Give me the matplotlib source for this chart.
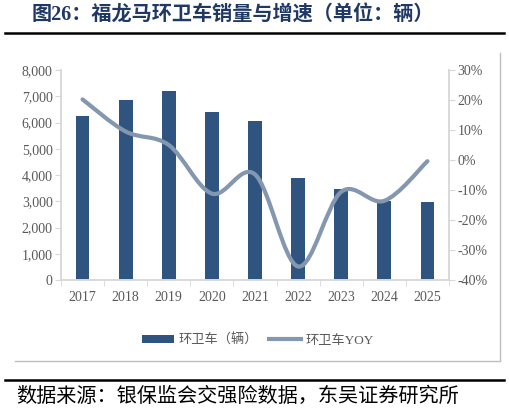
import numpy as np
import matplotlib
matplotlib.use("Agg")
import matplotlib.pyplot as plt
from matplotlib.path import Path
from matplotlib.patches import PathPatch
from matplotlib.lines import Line2D
from matplotlib.patches import Patch
from matplotlib.ticker import FuncFormatter

# data
years = ['2017', '2018', '2019', '2020', '2021', '2022', '2023', '2024', '2025']
sales = [6260, 6860, 7210, 6390, 6060, 3890, 3480, 3010, 2980]
yoy = [20.2, 9.5, 5.0, -11.2, -4.8, -35.5, -10.6, -13.6, -0.4]

bar_color = '#2F5480'
line_color = '#8497B0'
tick_color = '#595959'
spine_color = '#D9D9D9'
serif = 'Liberation Serif'
cjk = ['Noto Sans CJK SC', 'DejaVu Sans']
mixed = ['Liberation Serif', 'Noto Sans CJK SC', 'DejaVu Sans']

W, H = 509, 413
fig = plt.figure(figsize=(W / 100, H / 100), dpi=100)

# axes box in pixels: left 61, right 449, top 70, bottom 280
ax = fig.add_axes([61 / W, (H - 280) / H, (449 - 61) / W, (280 - 70) / H])
ax2 = ax.twinx()

x = np.arange(len(years))
ax.bar(x, sales, width=0.32, color=bar_color, zorder=2)
ax.set_xlim(-0.5, len(years) - 0.5)
ax.set_ylim(0, 8000)
ax.set_yticks(range(0, 8001, 1000))
ax.yaxis.set_major_formatter(FuncFormatter(lambda v, p: f'{int(v):,}'))
ax.set_xticks(x)
ax.set_xticklabels(years)
ax.set_xticks(np.arange(-0.5, len(years), 1.0), minor=True)
ax.tick_params(axis='x', which='major', length=0, pad=8)
ax.tick_params(axis='x', which='minor', length=4, color=spine_color, direction='out')
ax.tick_params(axis='y', length=4, color=spine_color, pad=2)

ax2.set_ylim(-40, 30)
ax2.set_yticks(range(-40, 31, 10))
ax2.yaxis.set_major_formatter(FuncFormatter(lambda v, p: f'{int(v)}%'))
ax2.tick_params(axis='y', length=4, color=spine_color, pad=2)

for a in (ax, ax2):
    a.spines['top'].set_visible(False)
    for s in ('left', 'right', 'bottom'):
        a.spines[s].set_color(spine_color)
        a.spines[s].set_linewidth(1.2)
    for lab in a.get_xticklabels() + a.get_yticklabels():
        lab.set_fontfamily(serif)
        lab.set_fontsize(10)
        lab.set_color(tick_color)

# smoothed YOY line (Catmull-Rom style bezier through the points, like Excel)
pts = np.column_stack([x, yoy]).astype(float)
verts = [pts[0]]
codes = [Path.MOVETO]
n = len(pts)
for i in range(n - 1):
    p0 = pts[i - 1] if i > 0 else pts[i]
    p1 = pts[i]
    p2 = pts[i + 1]
    p3 = pts[i + 2] if i + 2 < n else pts[i + 1]
    c1 = p1 + (p2 - p0) / 6.0
    c2 = p2 - (p3 - p1) / 6.0
    verts += [c1, c2, p2]
    codes += [Path.CURVE4] * 3
ax2.add_patch(PathPatch(Path(verts, codes), fill=False, edgecolor=line_color,
                        linewidth=3, capstyle='round', zorder=3))

# legend
handles = [Patch(facecolor=bar_color, edgecolor='none'),
           Line2D([0], [0], color=line_color, lw=3)]
leg = fig.legend(handles, ['环卫车（辆）', '环卫车YOY'], ncol=2,
                 loc='center', bbox_to_anchor=(258 / W, (H - 340) / H),
                 frameon=False, handlelength=2.4, handleheight=0.55,
                 handletextpad=0.4, columnspacing=0.8,
                 prop={'family': mixed, 'size': 9.5})
for t in leg.get_texts():
    t.set_color(tick_color)

# frame lines around chart area (bottom and right)
fig.add_artist(Line2D([15 / W, 500 / W], [(H - 361) / H, (H - 361) / H],
                      color='#BFBFBF', lw=1, transform=fig.transFigure))
fig.add_artist(Line2D([500 / W, 500 / W], [(H - 361) / H, (H - 53) / H],
                      color='#BFBFBF', lw=1, transform=fig.transFigure))

# title and source
fig.text(32 / W, (H - 16) / H, '图26：福龙马环卫车销量与增速（单位：辆）',
         fontsize=14.5, fontweight='bold', color='#1F3864', family=mixed,
         va='center', ha='left')
fig.add_artist(Line2D([5 / W, 504 / W], [(H - 33) / H, (H - 33) / H],
                      color='black', lw=1.8, transform=fig.transFigure))
fig.add_artist(Line2D([5 / W, 504 / W], [(H - 380) / H, (H - 380) / H],
                      color='black', lw=1.8, transform=fig.transFigure))
fig.text(16 / W, (H - 396) / H, '数据来源：银保监会交强险数据，东吴证券研究所',
         fontsize=14.5, color='black', family=cjk, va='center', ha='left')

fig.savefig('out.png', dpi=100)
